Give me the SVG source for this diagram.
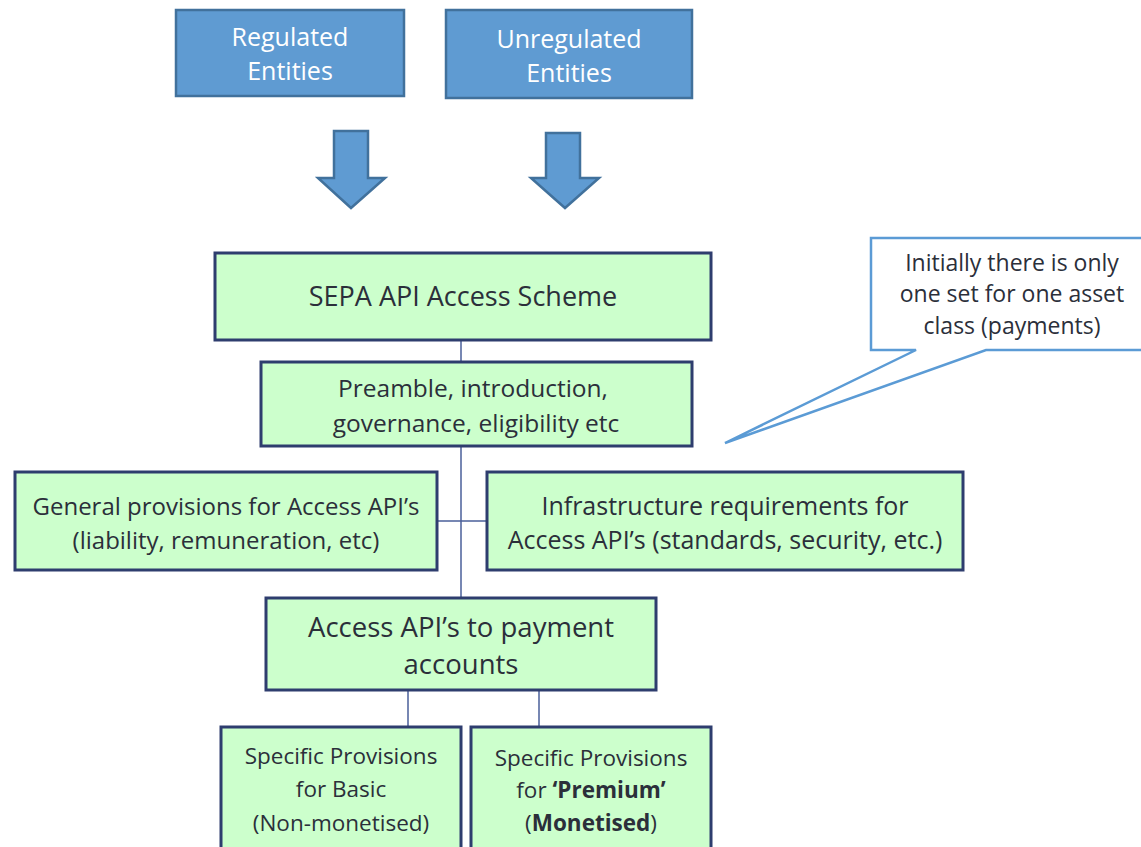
<svg xmlns="http://www.w3.org/2000/svg" width="1141" height="847" viewBox="0 0 1141 847">
<style>
.blue{fill:#5f9bd2;stroke:#41719c;stroke-width:2.5}
.green{fill:#ccffcc;stroke:#2e3d6e;stroke-width:3}
.wt{font-family:"Open Sans",Lato,sans-serif;font-size:25px;fill:#ffffff;text-anchor:middle}
.gt{font-family:"Open Sans",Lato,sans-serif;fill:#2b2f3a;text-anchor:middle}
.ln{stroke:#4a5f9a;stroke-width:1.5;fill:none}
.arrow{fill:#5f9bd2;stroke:#41719c;stroke-width:2.5;stroke-linejoin:miter}
.callout{fill:#ffffff;stroke:#5b9bd5;stroke-width:2.5}
</style>
<rect width="1141" height="847" fill="#ffffff"/>
<g id="connectors">
<line class="ln" x1="461" y1="340" x2="461" y2="362"/>
<line class="ln" x1="461" y1="446" x2="461" y2="598"/>
<line class="ln" x1="437" y1="521" x2="487" y2="521"/>
<line class="ln" x1="408" y1="690" x2="408" y2="727"/>
<line class="ln" x1="539" y1="690" x2="539" y2="727"/>
<polygon class="arrow" points="334,131 368,131 368,178 385,178 351,208 318,178 334,178"/>
<polygon class="arrow" points="546,133 580,133 580,178 599,178 565,208 531,178 546,178"/>
</g>
<g id="regulated">
<rect class="blue" x="176" y="10" width="228" height="86"/>
<text class="wt" x="290" y="46">Regulated</text>
<text class="wt" x="290" y="80">Entities</text>
</g>
<g id="unregulated">
<rect class="blue" x="446" y="10" width="246" height="88"/>
<text class="wt" x="569" y="48">Unregulated</text>
<text class="wt" x="569" y="82">Entities</text>
</g>
<g id="callout">
<path class="callout" d="M871,238 H1145 V350 H986 L725,443 L916,350 H871 Z"/>
<text class="gt" font-size="23" x="1012" y="271">Initially there is only</text>
<text class="gt" font-size="23" x="1012" y="302">one set for one asset</text>
<text class="gt" font-size="23" x="1012" y="334">class (payments)</text>
</g>
<g id="sepa">
<rect class="green" x="215" y="253" width="496" height="87"/>
<text class="gt" font-size="27" x="463" y="306">SEPA API Access Scheme</text>
</g>
<g id="preamble">
<rect class="green" x="261" y="362" width="431" height="84"/>
<text class="gt" font-size="24.5" x="473" y="397">Preamble, introduction,</text>
<text class="gt" font-size="24.5" x="476" y="432">governance, eligibility etc</text>
</g>
<g id="general">
<rect class="green" x="15" y="472" width="422" height="98"/>
<text class="gt" font-size="24" x="226" y="515">General provisions for Access API’s</text>
<text class="gt" font-size="24" x="226" y="549">(liability, remuneration, etc)</text>
</g>
<g id="infrastructure">
<rect class="green" x="487" y="472" width="476" height="98"/>
<text class="gt" font-size="25" x="725" y="515">Infrastructure requirements for</text>
<text class="gt" font-size="25" x="725" y="549">Access API’s (standards, security, etc.)</text>
</g>
<g id="access">
<rect class="green" x="266" y="598" width="390" height="92"/>
<text class="gt" font-size="27.5" x="461" y="637">Access API’s to payment</text>
<text class="gt" font-size="27.5" x="461" y="674">accounts</text>
</g>
<g id="basic">
<rect class="green" x="221" y="727" width="240" height="130"/>
<text class="gt" font-size="22.5" x="341" y="764">Specific Provisions</text>
<text class="gt" font-size="22.5" x="341" y="797">for Basic</text>
<text class="gt" font-size="22.5" x="341" y="831">(Non-monetised)</text>
</g>
<g id="premium">
<rect class="green" x="471" y="727" width="240" height="130"/>
<text class="gt" font-size="22.5" x="591" y="766">Specific Provisions</text>
<text class="gt" font-size="22.5" x="591" y="798">for <tspan font-weight="bold">‘Premium’</tspan></text>
<text class="gt" font-size="22.5" x="591" y="831">(<tspan font-weight="bold">Monetised</tspan>)</text>
</g>
</svg>
